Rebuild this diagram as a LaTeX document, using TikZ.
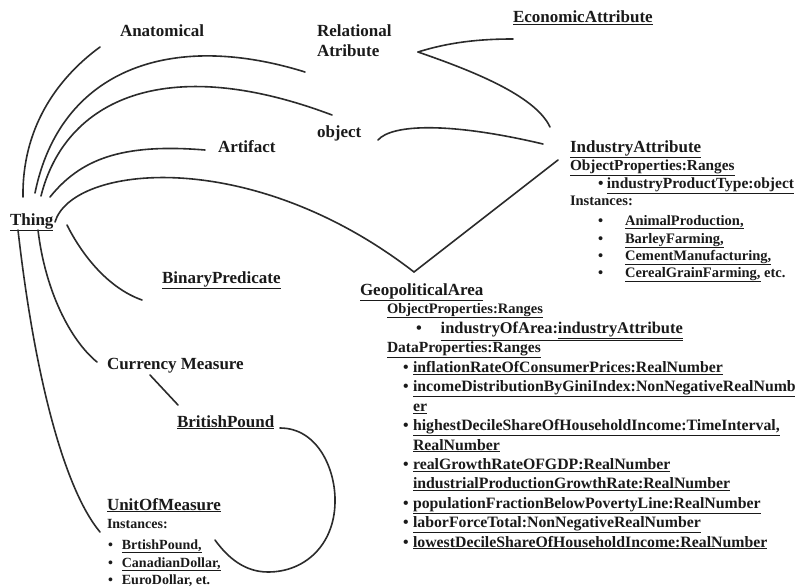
\documentclass[tikz,border=0pt]{standalone}
\usepackage{fontspec}
\setmainfont{Liberation Serif}
\newcommand\lnk[1]{\underline{#1}}
\newcommand\bul{\textbullet}
\newcommand\fs[1]{\fontsize{#1}{#1}\selectfont}
\newcommand\row[1]{\hbox{#1}}
\definecolor{ink}{HTML}{1A1A1A}
\definecolor{edge}{HTML}{2B2B2B}
\begin{document}
\begin{tikzpicture}[x=1pt,y=-1pt,
  lbl/.style={anchor=base west,inner sep=0pt,outer sep=0pt,text=ink,
    font=\fontsize{17}{20}\selectfont\bfseries},
  link/.style={draw=edge,line width=1.6pt,line cap=round}]
\useasboundingbox[fill=white] (0,0) rectangle (795,586);

% concept labels
\node[lbl] (thing) at (10,225) {\lnk{Thing}};
\node[lbl] (anatomical) at (120,37) {Anatomical};
\node[lbl] (relational) at (317,37) {\vtop{\baselineskip=20pt\lineskiplimit=-50pt
  \row{Relational}\row{Atribute}}};
\node[lbl] (economic) at (513,23) {\lnk{EconomicAttribute}};
\node[lbl] (object) at (317,137) {object};
\node[lbl] (artifact) at (218,152) {Artifact};
\node[lbl] (binary) at (162,283) {\lnk{BinaryPredicate}};
\node[lbl] (currency) at (107,369) {Currency Measure};
\node[lbl] (british) at (177,427) {\lnk{BritishPound}};

% IndustryAttribute with its properties and instances
\node[lbl] (industry) at (570,152) {\vtop{\baselineskip=18pt\lineskiplimit=-50pt
  \row{\lnk{IndustryAttribute}}
  \row{\fs{15.3}\lnk{ObjectProperties:Ranges}}
  \row{\fs{15.5}\hspace*{28pt}\bul\hspace*{3.5pt}\lnk{industryProductType:object}}\vskip-1pt
  \row{\fs{14.5}Instances:}\vskip2pt
  \row{\fs{14.5}\hspace*{28pt}\bul\hspace*{22pt}\lnk{AnimalProduction,}}
  \row{\fs{14.5}\hspace*{28pt}\bul\hspace*{22pt}\lnk{BarleyFarming,}}\vskip-1pt
  \row{\fs{14.5}\hspace*{28pt}\bul\hspace*{22pt}\lnk{CementManufacturing,}}\vskip-1pt
  \row{\fs{14.5}\hspace*{28pt}\bul\hspace*{22pt}\lnk{CerealGrainFarming,} etc.}}};

% GeopoliticalArea with its properties
\node[lbl] (geo) at (360,295) {\vtop{\baselineskip=19.4pt\lineskiplimit=-50pt
  \row{\lnk{GeopoliticalArea}}\vskip-1.4pt
  \row{\fs{14.5}\hspace*{27pt}\lnk{ObjectProperties:Ranges}}\vskip0.6pt
  \row{\fs{16.4}\hspace*{56pt}\bul\hspace*{19pt}\lnk{industryOfArea:\lnk{industryAttribute}}}
  \row{\fs{15.5}\hspace*{27pt}\lnk{DataProperties:Ranges}}\vskip0.6pt
  \row{\fs{15.8}\hspace*{43pt}\bul\hspace*{4.5pt}\lnk{inflationRateOfConsumerPrices:RealNumber}}
  \row{\fs{15.8}\hspace*{43pt}\bul\hspace*{4.5pt}\lnk{incomeDistributionByGiniIndex:NonNegativeRealNumb}}
  \row{\fs{15.8}\hspace*{53pt}\lnk{er}}
  \row{\fs{15.8}\hspace*{43pt}\bul\hspace*{4.5pt}\lnk{highestDecileShareOfHouseholdIncome:TimeInterval,}}
  \row{\fs{15.8}\hspace*{53pt}\lnk{RealNumber}}
  \row{\fs{15.8}\hspace*{43pt}\bul\hspace*{4.5pt}\lnk{realGrowthRateOFGDP:RealNumber}}
  \row{\fs{15.8}\hspace*{53pt}\lnk{industrialProductionGrowthRate:RealNumber}}
  \row{\fs{15.8}\hspace*{43pt}\bul\hspace*{4.5pt}\lnk{populationFractionBelowPovertyLine:RealNumber}}
  \row{\fs{15.8}\hspace*{43pt}\bul\hspace*{4.5pt}\lnk{laborForceTotal:NonNegativeRealNumber}}
  \row{\fs{15.8}\hspace*{43pt}\bul\hspace*{4.5pt}\lnk{lowestDecileShareOfHouseholdIncome:RealNumber}}}};

% UnitOfMeasure with its instances
\node[lbl] (unit) at (107,510) {\vtop{\baselineskip=18pt\lineskiplimit=-50pt
  \row{\lnk{UnitOfMeasure}}
  \row{\fs{14}Instances:}\vskip3pt
  \row{\fs{14}\hspace*{1pt}\bul\hspace*{9pt}\lnk{BrtishPound,}}
  \row{\fs{14}\hspace*{1pt}\bul\hspace*{9pt}\lnk{CanadianDollar,}}\vskip-1pt
  \row{\fs{14}\hspace*{1pt}\bul\hspace*{9pt}\lnk{EuroDollar, et.}}}};

% connector end points
\coordinate (thing-anat) at (23,197);
\coordinate (thing-rel) at (35,193);
\coordinate (thing-obj) at (41,196);
\coordinate (thing-art) at (50,197);
\coordinate (thing-geo) at (55,222);
\coordinate (thing-bin) at (67,225);
\coordinate (thing-cur) at (38,230);
\coordinate (thing-unit) at (18,230);
\coordinate (anat-end) at (100,47);
\coordinate (rel-in) at (305,72);
\coordinate (rel-out) at (418,52);
\coordinate (obj-in) at (332,115);
\coordinate (obj-out) at (378,140);
\coordinate (art-end) at (205,150);
\coordinate (geo-top) at (414,272);
\coordinate (bin-end) at (142,300);
\coordinate (cur-in) at (97,362);
\coordinate (cur-out) at (150,375);
\coordinate (brit-in) at (178,405);
\coordinate (brit-out) at (280,428);
\coordinate (unit-in) at (100,532);
\coordinate (unit-loop) at (215,540);
\coordinate (eco-end) at (513,39);
\coordinate (ind-rel) at (550,127);
\coordinate (ind-obj) at (543,144);
\coordinate (ind-geo) at (558,160);

% links out of Thing
\draw[link] (thing-anat) .. controls (22,130) and (55,80) .. (anat-end);
\draw[link] (thing-rel) .. controls (60,70) and (170,30) .. (rel-in);
\draw[link] (thing-obj) .. controls (65,100) and (165,52) .. (obj-in);
\draw[link] (thing-art) .. controls (80,160) and (120,143) .. (art-end);
\draw[link] (thing-geo) .. controls (72,165) and (250,145) .. (geo-top);
\draw[link] (thing-bin) .. controls (82,255) and (108,288) .. (bin-end);
\draw[link] (thing-cur) .. controls (45,290) and (70,340) .. (cur-in);
\draw[link] (thing-unit) .. controls (35,380) and (65,490) .. (unit-in);

% remaining links
\draw[link] (cur-out) -- (brit-in);
\draw[link] (brit-out) .. controls (318,428) and (336,470) .. (335,503)
  .. controls (334,545) and (305,572) .. (268,572)
  .. controls (245,572) and (228,558) .. (unit-loop);
\draw[link] (rel-out) .. controls (450,42) and (480,39) .. (eco-end);
\draw[link] (rel-out) .. controls (470,70) and (535,95) .. (ind-rel);
\draw[link] (obj-out) .. controls (392,124) and (450,122) .. (ind-obj);
\draw[link] (ind-geo) -- (geo-top);
\end{tikzpicture}
\end{document}
